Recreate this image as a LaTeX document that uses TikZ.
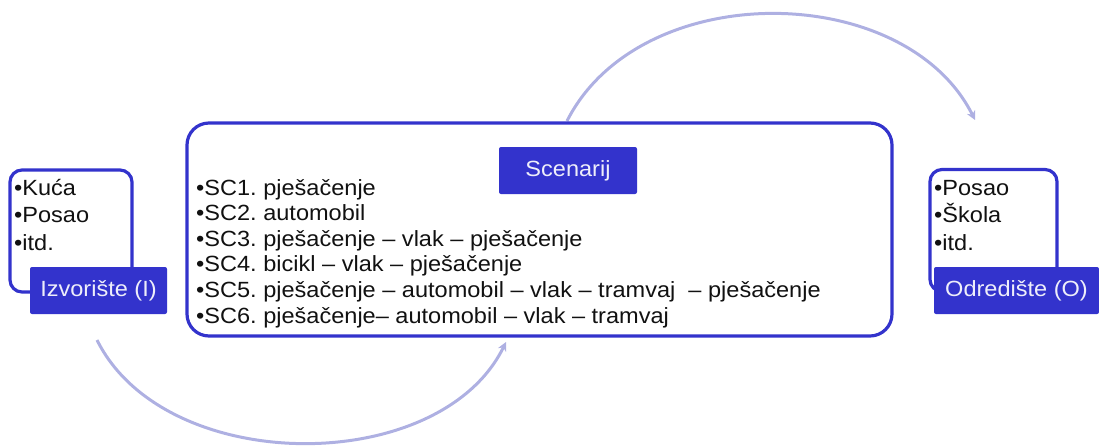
\documentclass[tikz,border=0pt]{standalone}
\usepackage{fontspec}
\setmainfont{Liberation Sans}
\usetikzlibrary{arrows.meta}
\frenchspacing
\definecolor{mainblue}{HTML}{3333CC}
\definecolor{arcblue}{HTML}{AEB0E2}
\definecolor{labeltext}{HTML}{EEEEFA}
\definecolor{txt}{HTML}{111111}
\newcommand{\wideX}[1]{\scalebox{1.07}[1]{#1}}
\tikzset{
  outlinebox/.style={draw=mainblue, line width=3.2pt, fill=white, inner sep=0pt},
  labelbox/.style={fill=mainblue, rounded corners=2pt, inner sep=0pt, text=labeltext,
    font=\fontsize{22}{26}\selectfont, minimum height=47pt},
  listtext/.style={inner sep=0pt, anchor=base west, text=txt},
  flowarc/.style={draw=arcblue, line width=3pt, -{Stealth[length=9pt,width=9pt]}}
}
\begin{document}
\begin{tikzpicture}[x=1pt,y=-1pt]
\useasboundingbox (0,0) rectangle (1099,445);
% arcs
\coordinate (ta) at (567,121);
\coordinate (tb) at (975,120);
\coordinate (ba) at (97,340);
\coordinate (bb) at (506,342);
\draw[flowarc] (ta) .. controls (640,-23) and (905,-20) .. (tb);
\draw[flowarc] (ba) .. controls (165,477) and (440,477) .. (bb);
% boxes
\node[outlinebox, rounded corners=12pt, minimum width=122pt, minimum height=122pt] (src) at (71,231) {};
\node[outlinebox, rounded corners=12pt, minimum width=127pt, minimum height=122pt] (dst) at (993.5,230.5) {};
\node[outlinebox, rounded corners=22pt, minimum width=705pt, minimum height=213pt] (main) at (539.5,229.5) {};
% labels
\node[labelbox, minimum width=137pt] (srclab) at (98.5,290.5) {\wideX{Izvorište (I)}};
\node[labelbox, minimum width=165pt] (dstlab) at (1016.5,290.5) {\wideX{Odredište (O)}};
\node[labelbox, minimum width=138pt] (scen) at (568,170.5) {\wideX{Scenarij}};
% lists
\node[listtext] (srclist) at (14,195) {\wideX{\fontsize{22}{27.8}\selectfont\begin{tabular}[t]{@{}l@{}}•Kuća\\•Posao\\•itd.\end{tabular}}};
\node[listtext] (dstlist) at (934,195) {\wideX{\fontsize{22}{27.8}\selectfont\begin{tabular}[t]{@{}l@{}}•Posao\\•Škola\\•itd.\end{tabular}}};
\node[listtext] (sclist) at (196,195) {\wideX{\fontsize{22}{25.6}\selectfont\begin{tabular}[t]{@{}l@{}}•SC1. pješačenje\\•SC2. automobil\\•SC3. pješačenje – vlak – pješačenje\\•SC4. bicikl – vlak – pješačenje\\•SC5. pješačenje – automobil – vlak – tramvaj \ – pješačenje\\•SC6. pješačenje– automobil – vlak – tramvaj\end{tabular}}};
\end{tikzpicture}
\end{document}
